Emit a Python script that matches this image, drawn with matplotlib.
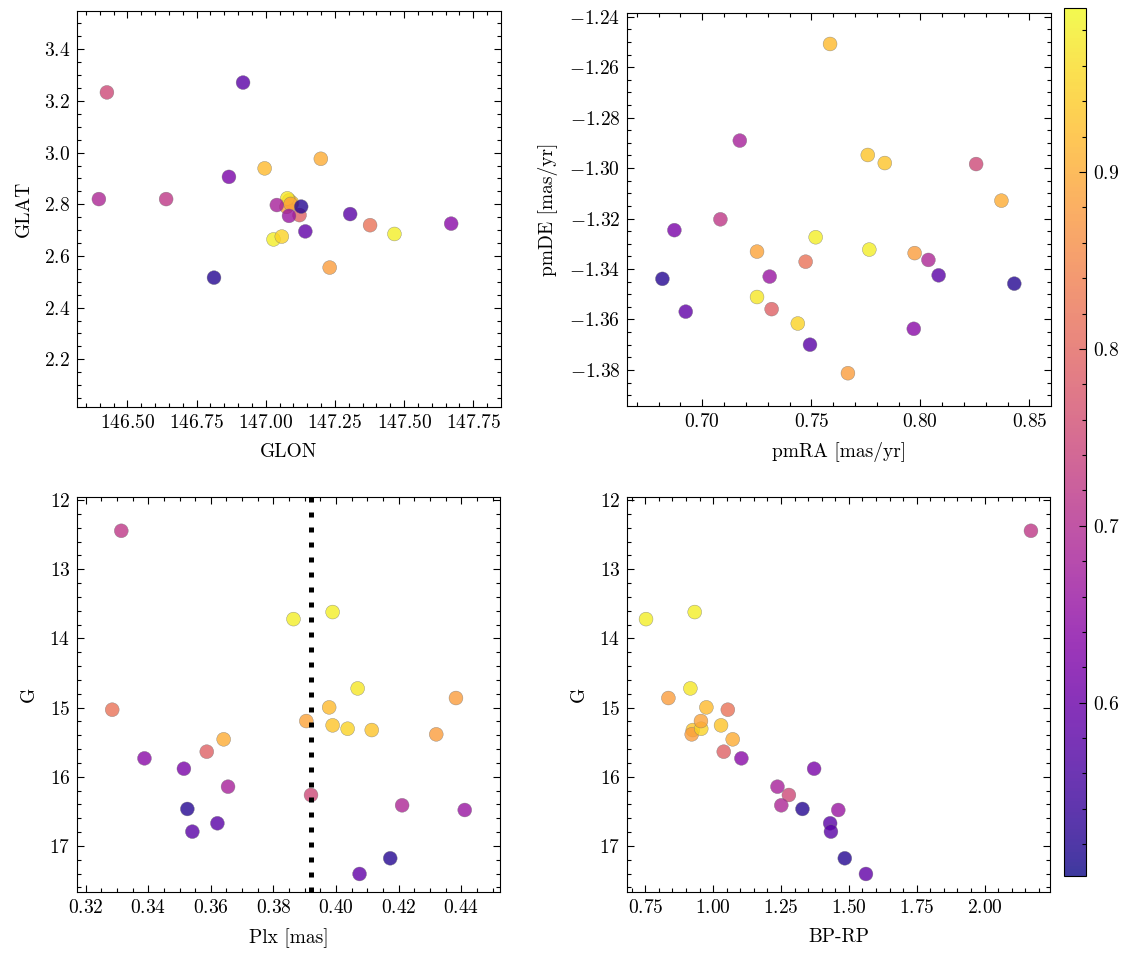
import numpy as np
import matplotlib
matplotlib.use('Agg')
import matplotlib.pyplot as plt

plt.rcParams.update({
    'font.family': 'serif',
    'font.serif': ['cmr10'],
    'mathtext.fontset': 'cm',
    'axes.formatter.use_mathtext': True,
    'axes.unicode_minus': True,
    'font.size': 14,
    'axes.linewidth': 0.8,
    'axes.labelpad': 8,
    'xtick.direction': 'in', 'ytick.direction': 'in',
    'xtick.top': True, 'ytick.right': True,
    'xtick.minor.visible': True, 'ytick.minor.visible': True,
    'xtick.major.size': 5.3, 'ytick.major.size': 5.3,
    'xtick.minor.size': 2.9, 'ytick.minor.size': 2.9,
    'xtick.major.width': 0.8, 'ytick.major.width': 0.8,
    'xtick.minor.width': 0.8, 'ytick.minor.width': 0.8,
    'xtick.major.pad': 5, 'ytick.major.pad': 5,
})

# one entry per member star
prob = [0.93, 0.93, 0.88, 0.98, 0.98, 0.97, 0.95, 0.92, 0.90, 0.89, 0.88, 0.82, 0.79,
        0.75, 0.72, 0.69, 0.68, 0.66, 0.64, 0.62, 0.59, 0.58, 0.58, 0.52, 0.52]
glon = [147.085, 147.095, 147.075, 147.465, 147.028, 147.078, 147.058, 146.996, 147.199,
        147.090, 147.231, 147.377, 147.122, 146.426, 146.640, 146.397, 147.040, 147.084,
        147.670, 146.867, 147.143, 146.918, 147.305, 147.128, 146.813]
glat = [2.815, 2.805, 2.790, 2.685, 2.664, 2.823, 2.675, 2.939, 2.976, 2.801, 2.555, 2.719,
        2.758, 3.233, 2.820, 2.820, 2.797, 2.755, 2.725, 2.906, 2.695, 3.271, 2.762, 2.791, 2.516]
pmra = [0.7759, 0.7837, 0.7668, 0.7520, 0.7766, 0.7251, 0.7438, 0.7586, 0.8372, 0.7251,
        0.7974, 0.7474, 0.7318, 0.8256, 0.7083, 0.8037, 0.7172, 0.7309, 0.7970, 0.6872,
        0.6924, 0.7494, 0.8084, 0.6817, 0.8431]
pmde = [-1.2948, -1.2980, -1.3813, -1.3274, -1.3323, -1.3511, -1.3616, -1.2508, -1.3129,
        -1.3331, -1.3337, -1.3371, -1.3559, -1.2984, -1.3203, -1.3364, -1.2891, -1.3430,
        -1.3637, -1.3246, -1.3569, -1.3700, -1.3425, -1.3439, -1.3458]
plx = [0.3989, 0.4114, 0.4320, 0.3864, 0.3989, 0.4069, 0.4037, 0.3978, 0.3641, 0.3905,
       0.4383, 0.3285, 0.3587, 0.3920, 0.3314, 0.4211, 0.3655, 0.4411, 0.3388, 0.3514,
       0.4075, 0.3621, 0.3541, 0.3525, 0.4173]
gmag = [15.256, 15.324, 15.386, 13.720, 13.618, 14.722, 15.305, 14.996, 15.458, 15.194,
        14.861, 15.030, 15.637, 16.263, 12.443, 16.412, 16.143, 16.480, 15.733, 15.883,
        17.405, 16.672, 16.793, 16.465, 17.178]
bprp = [1.029, 0.925, 0.921, 0.7526, 0.932, 0.916, 0.956, 0.975, 1.072, 0.955, 0.835,
        1.054, 1.039, 1.279, 2.171, 1.251, 1.237, 1.461, 1.104, 1.372, 1.563, 1.431,
        1.434, 1.329, 1.485]
plx_mean = 0.392

W, H = 1133, 959
fig = plt.figure(figsize=(W / 100, H / 100), dpi=100)

def box(l, t, r, b):
    return [l / W, 1 - b / H, (r - l) / W, (b - t) / H]

ax1 = fig.add_axes(box(77.3, 11, 500.7, 406.7))
ax2 = fig.add_axes(box(627.3, 12.7, 1050.7, 406))
ax3 = fig.add_axes(box(77.3, 496.7, 500.3, 892.3))
ax4 = fig.add_axes(box(627.3, 496.7, 1050.3, 892.3))
cax = fig.add_axes(box(1064, 7.5, 1085.7, 876))

kw = dict(c=prob, cmap='plasma', vmin=0.502, vmax=0.993, s=100, alpha=0.8,
          edgecolors='0.45', linewidths=0.3)

sc = ax1.scatter(glon, glat, **kw)
ax1.set_xlabel('GLON')
ax1.set_ylabel('GLAT')
ax1.set_xticks([146.5, 146.75, 147.0, 147.25, 147.5, 147.75])
ax1.set_xlim(146.319, 147.849)
ax1.set_ylim(2.0165, 3.548)

ax2.scatter(pmra, pmde, **kw)
ax2.set_xlabel('pmRA [mas/yr]')
ax2.set_ylabel('pmDE [mas/yr]')
ax2.set_xticks([0.70, 0.75, 0.80, 0.85])
ax2.set_xlim(0.6656, 0.8598)
ax2.set_ylim(-1.3943, -1.2384)

ax3.scatter(plx, gmag, **kw)
ax3.axvline(plx_mean, color='k', linestyle=(0, (1, 2)), linewidth=3.6, zorder=3)
ax3.set_xlabel('Plx [mas]')
ax3.set_ylabel('G')
ax3.set_xlim(0.31735, 0.45246)
ax3.set_ylim(17.67, 11.95)

ax4.scatter(bprp, gmag, **kw)
ax4.set_xlabel('BP-RP')
ax4.set_ylabel('G')
ax4.set_xticks([0.75, 1.0, 1.25, 1.5, 1.75, 2.0])
ax4.set_xlim(0.6836, 2.2423)
ax4.set_ylim(17.67, 11.95)

cb = fig.colorbar(sc, cax=cax)
cb.set_ticks([0.6, 0.7, 0.8, 0.9])
cb.ax.minorticks_on()
cb.ax.tick_params(which='both', direction='in', right=True, left=False)

fig.savefig('out.png', dpi=100)
